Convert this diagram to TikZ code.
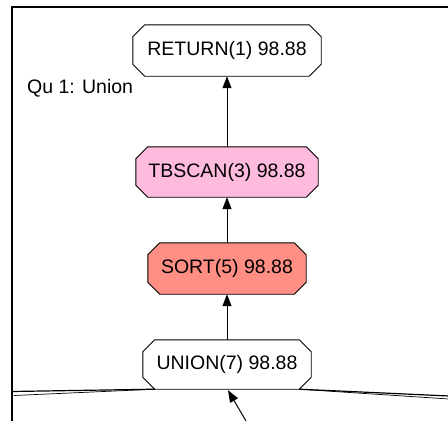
\documentclass[tikz,border=0pt]{standalone}
\usepackage{fontspec}
\setmainfont{Liberation Sans}
\usetikzlibrary{arrows.meta,calc}
\definecolor{scanpink}{HTML}{FFBBDD}
\definecolor{sortred}{HTML}{FF8E85}
\tikzset{
  opbox/.style={rectangle, inner sep=0pt, font=\fontsize{19.5}{22}\selectfont},
  octline/.style={draw=black, line width=0.9pt},
  flow/.style={draw=black, line width=1pt, -{Triangle[width=9pt,length=12pt]}},
  edgeline/.style={draw=black, line width=1.2pt},
}
\newcommand{\octbox}[2]{%
  \path[octline, fill=#2]
    ($(#1.north west)+(12,0)$) -- ($(#1.north east)+(-12,0)$) --
    ($(#1.north east)+(0,12)$) -- ($(#1.south east)+(0,-12)$) --
    ($(#1.south east)+(-12,0)$) -- ($(#1.south west)+(12,0)$) --
    ($(#1.south west)+(0,-12)$) -- ($(#1.north west)+(0,12)$) -- cycle;}
\begin{document}
\begin{tikzpicture}[x=1pt,y=-1pt]
\useasboundingbox (0,0) rectangle (448,421);
% frame
\draw[line width=1.6pt] (12,421) -- (12,7) -- (449,7);
\node[opbox, minimum width=188pt, minimum height=51pt] (ret) at (227,50.5) {};
\node[opbox, minimum width=182pt, minimum height=50pt] (tbs) at (227,172) {};
\node[opbox, minimum width=158pt, minimum height=51pt] (sort) at (227,268.5) {};
\node[opbox, minimum width=168pt, minimum height=49pt] (uni) at (227,364.5) {};
\octbox{ret}{white}
\octbox{tbs}{scanpink}
\octbox{sort}{sortred}
\octbox{uni}{white}
\node[opbox] at (ret.center) {RETURN(1) 98.88};
\node[opbox] at (tbs.center) {TBSCAN(3) 98.88};
\node[opbox] at (sort.center) {SORT(5) 98.88};
\node[opbox] at (uni.center) {UNION(7) 98.88};
\node[font=\fontsize{19.5}{22}\selectfont, anchor=west, inner sep=0pt] (lbl) at (27,88) {Qu 1: Union};
\draw[flow] (tbs.north) -- (ret.south);
\draw[flow] (sort.north) -- (tbs.south);
\draw[flow] (uni.north) -- (sort.south);
% incoming edges from outside the view
\coordinate (ul) at ($(uni.south west)+(12,0)$);
\coordinate (ur) at ($(uni.south east)+(-12,0)$);
\coordinate (lfar1) at (12,391.5);
\coordinate (lfar2) at (14,395.5);
\coordinate (rfar1) at (449,396);
\coordinate (rfar2) at (449,399);
\coordinate (bfar) at (246,421);
\draw[edgeline] (ul) -- (lfar1);
\draw[edgeline, line width=0.7pt] (ul) -- (lfar2);
\draw[edgeline] (ur) -- (rfar1);
\draw[edgeline, line width=0.7pt] (ur) -- (rfar2);
\draw[flow] (bfar) -- ($(uni.south)+(1,1)$);
\end{tikzpicture}
\end{document}
